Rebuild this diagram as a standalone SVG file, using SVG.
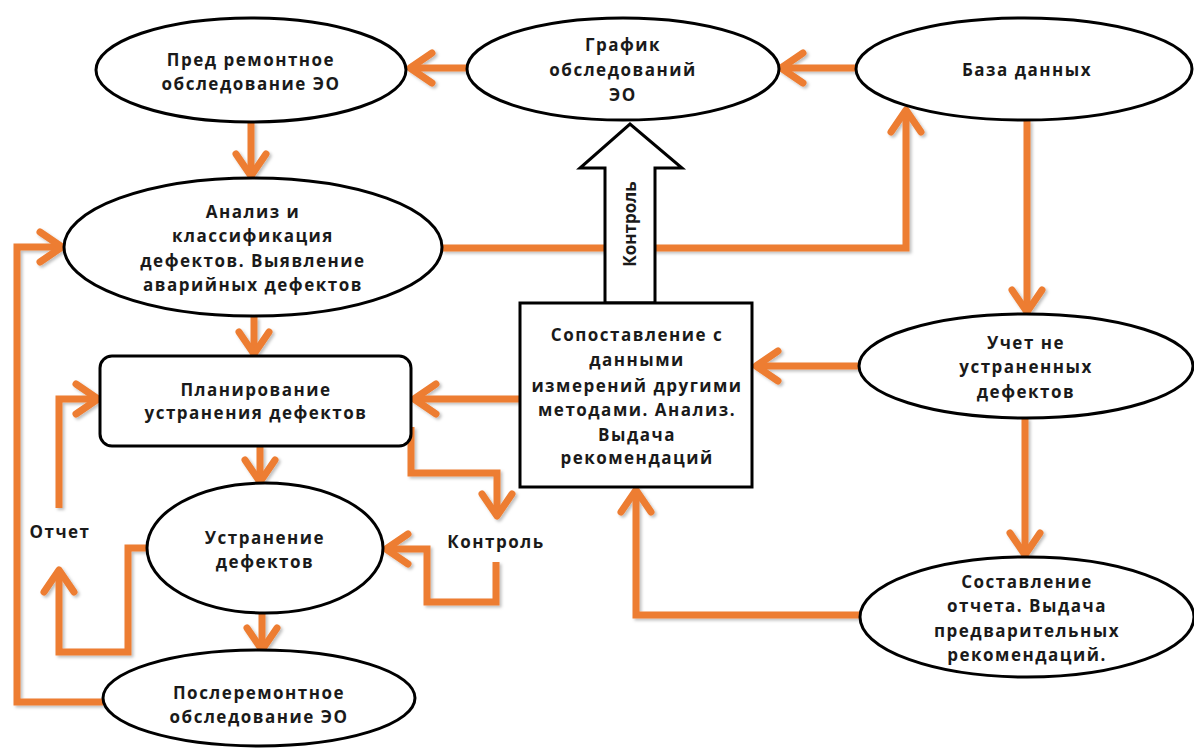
<svg xmlns="http://www.w3.org/2000/svg" width="1194" height="749" viewBox="0 0 1194 749">
<style>
.n{fill:#fff;stroke:#000;stroke-width:3}
.t{font-family:"Open Sans","Liberation Sans",sans-serif;font-weight:bold;font-size:17px;fill:#1a1a1a;text-anchor:middle;letter-spacing:1.5px}
.r{letter-spacing:0}
.c{fill:none;stroke:#ED7D31;stroke-width:7;stroke-linejoin:miter}
</style>
<defs>
<marker id="ah" markerUnits="userSpaceOnUse" viewBox="-34 -22 40 44" markerWidth="40" markerHeight="44" refX="0" refY="0" orient="auto">
<path d="M-22,-15 L0,0 L-22,15" fill="none" stroke="#ED7D31" stroke-width="7" stroke-linecap="round" stroke-linejoin="round"/>
</marker>
<filter id="sh" x="-5%" y="-5%" width="110%" height="110%">
<feDropShadow dx="2" dy="2" stdDeviation="1.5" flood-color="#000" flood-opacity="0.25"/>
</filter>
</defs>
<rect width="1194" height="749" fill="#fff"/>
<g id="connectors" filter="url(#sh)">
<path class="c" d="M467,68 L410,68" marker-end="url(#ah)"/>
<path class="c" d="M856,68 L781,68" marker-end="url(#ah)"/>
<path class="c" d="M251,122 L251,176" marker-end="url(#ah)"/>
<path class="c" d="M442,248 L906,248 L906,110" marker-end="url(#ah)"/>
<path class="c" d="M1027,120 L1027,312" marker-end="url(#ah)"/>
<path class="c" d="M858,366 L756,366" marker-end="url(#ah)"/>
<path class="c" d="M1025,418 L1025,555" marker-end="url(#ah)"/>
<path class="c" d="M860,615 L636,615 L636,490" marker-end="url(#ah)"/>
<path class="c" d="M520,399 L414,399" marker-end="url(#ah)"/>
<path class="c" d="M254,317 L254,354" marker-end="url(#ah)"/>
<path class="c" d="M260,446 L260,482" marker-end="url(#ah)"/>
<path class="c" d="M411,427 L411,473 L497,473 L497,516" marker-end="url(#ah)"/>
<path class="c" d="M496,562 L496,602 L427,602 L427,549 L386,549" marker-end="url(#ah)"/>
<path class="c" d="M147,548 L128,548 L128,652 L59,652 L59,570" marker-end="url(#ah)"/>
<path class="c" d="M59,508 L59,399 L98,399" marker-end="url(#ah)"/>
<path class="c" d="M262,613 L262,650" marker-end="url(#ah)"/>
<path class="c" d="M103,702 L17,702 L17,247 L62,247" marker-end="url(#ah)"/>
</g>
<g id="control-arrow">
<polygon class="n" points="605,303 605,168 580,168 630,124 682,168 655,168 655,303"/>
<text class="t r" transform="translate(636,224) rotate(-90)">Контроль</text>
</g>
<g id="pre-repair">
<ellipse class="n" cx="251" cy="70" rx="155" ry="52"/>
<text class="t" x="251" y="66">Пред ремонтное</text>
<text class="t" x="251" y="90">обследование ЭО</text>
</g>
<g id="schedule">
<ellipse class="n" cx="623" cy="69" rx="156" ry="51"/>
<text class="t" x="623" y="51">График</text>
<text class="t" x="623" y="76">обследований</text>
<text class="t" x="623" y="101">ЭО</text>
</g>
<g id="database">
<ellipse class="n" cx="1024" cy="69" rx="168" ry="51"/>
<text class="t" x="1027" y="76">База данных</text>
</g>
<g id="analysis">
<ellipse class="n" cx="253" cy="247" rx="189" ry="69"/>
<text class="t" x="253" y="218">Анализ и</text>
<text class="t" x="253" y="242">классификация</text>
<text class="t" x="253" y="267">дефектов. Выявление</text>
<text class="t" x="253" y="291">аварийных дефектов</text>
</g>
<g id="comparison">
<rect class="n" x="520" y="303" width="232" height="184"/>
<text class="t" x="637" y="341">Сопоставление с</text>
<text class="t" x="637" y="366">данными</text>
<text class="t" x="637" y="392">измерений другими</text>
<text class="t" x="637" y="416">методами. Анализ.</text>
<text class="t" x="637" y="441">Выдача</text>
<text class="t" x="637" y="464">рекомендаций</text>
</g>
<g id="unresolved">
<ellipse class="n" cx="1026" cy="366" rx="167" ry="52"/>
<text class="t" x="1026" y="349">Учет не</text>
<text class="t" x="1026" y="373">устраненных</text>
<text class="t" x="1026" y="398">дефектов</text>
</g>
<g id="planning">
<rect class="n" x="100" y="356" width="311" height="90" rx="12"/>
<text class="t" x="256" y="396">Планирование</text>
<text class="t" x="256" y="419">устранения дефектов</text>
</g>
<g id="label-report">
<text class="t" x="60" y="538">Отчет</text>
</g>
<g id="label-control">
<text class="t" x="496" y="548">Контроль</text>
</g>
<g id="elimination">
<ellipse class="n" cx="265" cy="548" rx="118" ry="65"/>
<text class="t" x="265" y="544">Устранение</text>
<text class="t" x="265" y="568">дефектов</text>
</g>
<g id="post-repair">
<ellipse class="n" cx="259" cy="698" rx="156" ry="48"/>
<text class="t" x="259" y="699">Послеремонтное</text>
<text class="t" x="259" y="723">обследование ЭО</text>
</g>
<g id="report">
<ellipse class="n" cx="1027" cy="617" rx="167" ry="60"/>
<text class="t" x="1027" y="588">Составление</text>
<text class="t" x="1027" y="612">отчета. Выдача</text>
<text class="t" x="1027" y="637">предварительных</text>
<text class="t" x="1027" y="661">рекомендаций.</text>
</g>
</svg>
